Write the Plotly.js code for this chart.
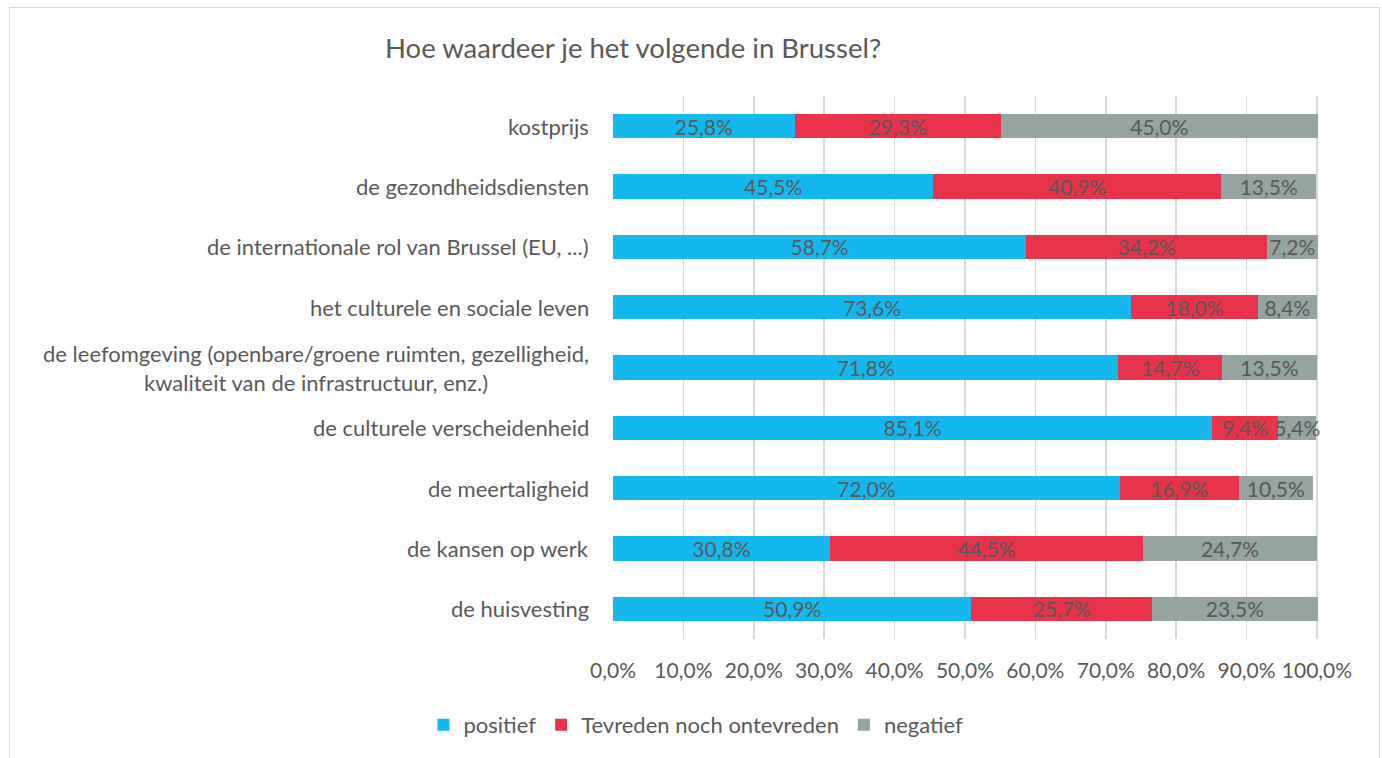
<!DOCTYPE html>
<html>
<head>
<meta charset="utf-8">
<script src="https://cdn.plot.ly/plotly-3.0.1.min.js"></script>
<style>
  html, body { margin: 0; padding: 0; background: #ffffff; }
  #wrap { position: relative; width: 1382px; height: 758px; overflow: hidden; }
  #chart { position: absolute; left: 0; top: 0; width: 1382px; height: 758px; }
  #frame { position: absolute; left: 9px; top: 7px; width: 1371px; height: 800px;
           border: 1.5px solid #d9d9d9; box-sizing: border-box; pointer-events: none; }
</style>
</head>
<body>
<div id="wrap">
  <div id="chart"></div>
  <div id="frame"></div>
</div>
<script>
// Categories, listed top to bottom as in the chart
const categories = [
  "kostprijs",
  "de gezondheidsdiensten",
  "de internationale rol van Brussel (EU, ...)",
  "het culturele en sociale leven",
  "de leefomgeving (openbare/groene ruimten, gezelligheid,<br>kwaliteit van de infrastructuur, enz.)",
  "de culturele verscheidenheid",
  "de meertaligheid",
  "de kansen op werk",
  "de huisvesting"
];
const seriesNames = ["positief", "Tevreden noch ontevreden", "negatief"];
const positief = [25.8, 45.5, 58.7, 73.6, 71.8, 85.1, 72.0, 30.8, 50.9];
const neutraal = [29.3, 40.9, 34.2, 18.0, 14.7, 9.4, 16.9, 44.5, 25.7];
const negatief = [45.0, 13.5, 7.2, 8.4, 13.5, 5.4, 10.5, 24.7, 23.5];
const xTickVals = [0, 10, 20, 30, 40, 50, 60, 70, 80, 90, 100];
const xTickText = ["0,0%", "10,0%", "20,0%", "30,0%", "40,0%", "50,0%", "60,0%", "70,0%", "80,0%", "90,0%", "100,0%"];
const chartTitle = "Hoe waardeer je het volgende in Brussel?";

const colors = ["#13B9EE", "#E8334A", "#95A3A1"];
const txt = "#595959";
const fontFam = "Lato, 'Open Sans', sans-serif";

const seriesVals = [positief, neutraal, negatief];
const traces = seriesVals.map((vals, i) => ({
  type: "bar",
  orientation: "h",
  name: seriesNames[i],
  x: vals,
  y: categories,
  marker: { color: colors[i], line: { width: 0 } },
  texttemplate: "%{x:.1f}%",
  textposition: "inside",
  insidetextanchor: "middle",
  constraintext: "none",
  cliponaxis: false,
  textfont: { family: fontFam, size: 21, color: txt },
  hoverinfo: "x+name"
}));

// Category labels as annotations so multi-line labels are centred line by line
const labelAnnotations = categories.map(c => ({
  xref: "paper", yref: "y",
  x: 0, y: c,
  xanchor: "right", yanchor: "middle",
  xshift: -22,
  align: "center",
  showarrow: false,
  text: c,
  font: { family: fontFam, size: 22, color: txt }
}));

const layout = {
  width: 1382,
  height: 758,
  barmode: "stack",
  bargap: 0.6,
  separators: ",.",
  paper_bgcolor: "#ffffff",
  plot_bgcolor: "#ffffff",
  font: { family: fontFam, size: 21, color: txt },
  margin: { l: 613, r: 64, t: 96, b: 119, pad: 0 },
  title: {
    text: chartTitle,
    font: { family: fontFam, size: 27.5, color: txt },
    xref: "container", yref: "container",
    x: 385 / 1382, xanchor: "left",
    y: 1 - 48 / 758, yanchor: "middle"
  },
  xaxis: {
    range: [0, 100.15],
    tickmode: "array",
    tickvals: xTickVals,
    ticktext: xTickText,
    showgrid: true,
    gridcolor: "#d9d9d9",
    gridwidth: 1.5,
    zeroline: false,
    showline: false,
    ticks: "",
    ticklabelstandoff: 17,
    tickfont: { family: fontFam, size: 21, color: txt },
    fixedrange: true
  },
  yaxis: {
    categoryorder: "array",
    categoryarray: categories.slice().reverse(),
    autorange: false,
    range: [-0.5, 8.5],
    showgrid: false,
    zeroline: false,
    showline: false,
    ticks: "",
    showticklabels: false,
    fixedrange: true
  },
  annotations: labelAnnotations,
  showlegend: true,
  legend: {
    orientation: "h",
    xref: "container", yref: "container",
    x: 696 / 1382, xanchor: "center",
    y: 1 - 725 / 758, yanchor: "middle",
    font: { family: fontFam, size: 22, color: txt },
    traceorder: "normal",
    bgcolor: "rgba(0,0,0,0)"
  }
};

Plotly.newPlot("chart", traces, layout, { displayModeBar: false, staticPlot: true });
</script>
</body>
</html>
